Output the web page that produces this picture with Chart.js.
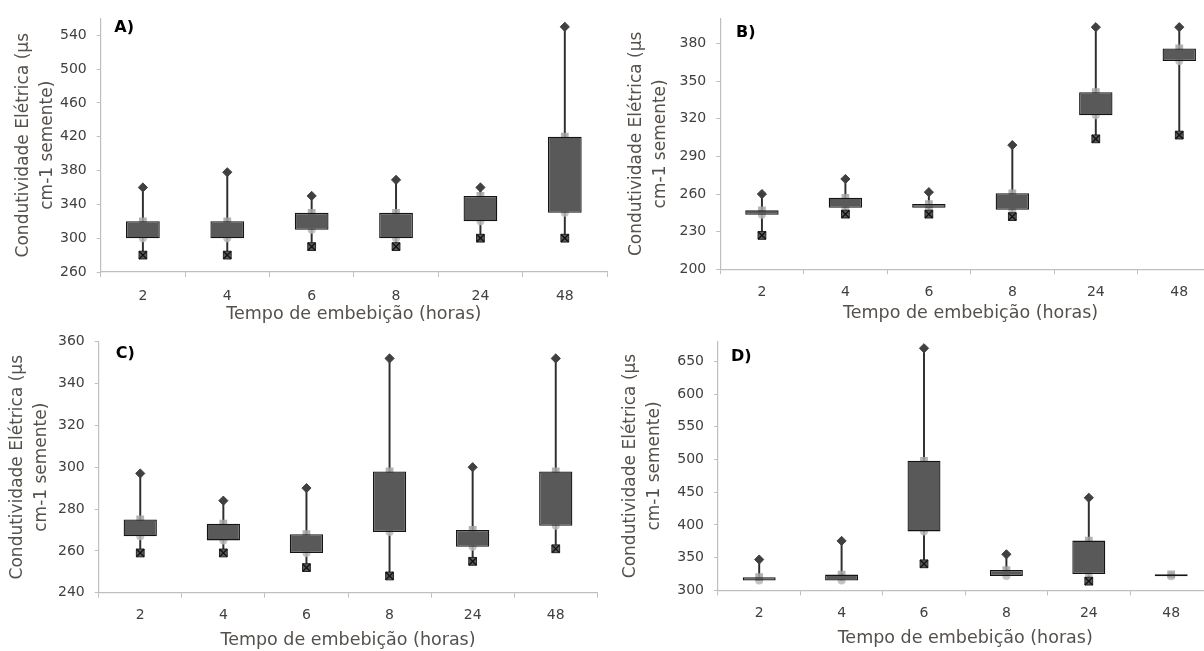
<!DOCTYPE html>
<html><head><meta charset="utf-8">
<script src="https://cdn.jsdelivr.net/npm/chart.js@4.4.1/dist/chart.umd.min.js"></script>
<style>
html,body{margin:0;padding:0;background:#fff;overflow:hidden;width:1204px;height:651px;position:relative}
canvas{position:absolute}
</style></head><body>
<canvas id="cA"></canvas><canvas id="cB"></canvas><canvas id="cC"></canvas><canvas id="cD"></canvas>
<script>
// ---------- DATA ----------
const categories = ['2', '4', '6', '8', '24', '48'];
const xTitle = 'Tempo de embebição (horas)';
const yTitle = ['Condutividade Elétrica (µs', 'cm-1 semente)'];

// Panel A
const minA = [280, 280, 290, 290, 300, 300];
const q1A  = [300, 300, 310, 300, 320, 330];
const q3A  = [320, 320, 330, 330, 350, 420];
const maxA = [360, 378, 350, 369, 360, 550];
const ticksA = [260, 300, 340, 380, 420, 460, 500, 540];
const rangeA = [260, 560];

// Panel B
const minB = [227, 244, 244, 242, 304, 307];
const q1B  = [243.5, 249, 249, 247.5, 322.7, 366];
const q3B  = [247, 257, 252, 260.6, 341.2, 376];
const maxB = [260, 272, 261.5, 299, 393, 393];
const ticksB = [200, 230, 260, 290, 320, 350, 380];
const rangeB = [200, 400];

// Panel C
const minC = [259, 259, 252, 248, 255, 261];
const q1C  = [267, 265, 259, 269, 262, 272];
const q3C  = [275, 273, 268, 298, 270, 298];
const maxC = [297, 284, 290, 352, 300, 352];
const ticksC = [240, 260, 280, 300, 320, 340, 360];
const rangeC = [240, 360];

// Panel D
const minD = [null, null, 340.5, null, 314, null];
const q1D  = [315, 315, 390, 322, 325, 321.5];
const q3D  = [320, 324, 498, 331, 376, 324.5];
const maxD = [347, 375.5, 670, 355, 441.5, null];
const ticksD = [300, 350, 400, 450, 500, 550, 600, 650];
const rangeD = [300, 680];

// ---------- LAYOUT / STYLE ----------
const FONT = '"DejaVu Sans", sans-serif';
const layouts = {
  A: {label: 'A)', left: 0,   top: 0,   w: 615, h: 325, padTop: 17,   padRight: 8,   yW: 100.7, xH: 53,   yTitlePad: 11.6, xTitlePad: 0.2, xTickPad: 11, lx: 13.6, ly: 9.7},
  B: {label: 'B)', left: 600, top: 0,   w: 630, h: 325, padTop: 17.1, padRight: 9,   yW: 120.2, xH: 55.7, yTitlePad: 24.5, xTitlePad: 0.9, xTickPad: 10, lx: 15.8, ly: 14.5},
  C: {label: 'C)', left: 0,   top: 320, w: 615, h: 331, padTop: 21.7, padRight: 17.7,yW: 98.7,  xH: 58.3, yTitlePad: 5.2,  xTitlePad: 0.2, xTickPad: 9.5, lx: 17, ly: 12.3},
  D: {label: 'D)', left: 600, top: 320, w: 620, h: 331, padTop: 21.7, padRight: 7.6, yW: 118,   xH: 60.7, yTitlePad: 18.8, xTitlePad: 1.9, xTickPad: 10, lx: 13, ly: 15}
};

const panelLabel = {
  id: 'panelLabel',
  afterDraw(chart, args, opts) {
    const ctx = chart.ctx, a = chart.chartArea;
    ctx.save();
    ctx.font = 'bold 16px ' + FONT;
    ctx.fillStyle = '#000';
    ctx.textBaseline = 'middle';
    ctx.textAlign = 'left';
    ctx.fillText(opts.text, a.left + opts.dx, a.top + opts.dy);
    ctx.restore();
  }
};

function makePanel(id, key, mins, q1s, q3s, maxs, ticks, range) {
  const L = layouts[key];
  const cv = document.getElementById(id);
  cv.width = L.w; cv.height = L.h;
  cv.style.left = L.left + 'px'; cv.style.top = L.top + 'px';
  const whisk = categories.map((c, i) => [mins[i] ?? q1s[i], maxs[i] ?? q3s[i]]);
  const box = categories.map((c, i) => [q1s[i], q3s[i]]);
  const pt = (extra) => Object.assign({type: 'line', showLine: false, pointHoverRadius: 0}, extra);
  new Chart(cv, {
    data: {
      labels: categories,
      datasets: [
        {type: 'bar', data: whisk, backgroundColor: '#2e2e2e', barThickness: 1.3, grouped: false, order: 6},
        pt({data: q3s, pointStyle: 'rect', pointRadius: 5.5, backgroundColor: 'rgba(165,165,165,0.85)', borderWidth: 0, order: 5}),
        pt({data: q1s, pointStyle: 'circle', pointRadius: 4, backgroundColor: 'rgba(185,185,185,0.85)', borderWidth: 0, order: 5}),
        {type: 'bar', data: box, backgroundColor: '#595959', borderColor: '#141414', borderWidth: 1.3, borderSkipped: false,
         barPercentage: 0.4, categoryPercentage: 1.0, grouped: false, order: 4},
        pt({data: maxs, pointStyle: 'rectRot', pointRadius: 4.6, backgroundColor: '#404040', borderColor: '#404040', borderWidth: 1, order: 2}),
        pt({data: mins, pointStyle: 'rect', pointRadius: 5.5, backgroundColor: '#5a5a5a', borderColor: '#262626', borderWidth: 1, order: 3}),
        pt({data: mins, pointStyle: 'crossRot', pointRadius: 5.5, borderColor: '#111', borderWidth: 1.3, order: 1})
      ]
    },
    options: {
      responsive: false, animation: false, devicePixelRatio: 1,
      events: [],
      layout: {padding: {top: L.padTop, right: L.padRight, left: 0, bottom: 0}},
      plugins: {legend: {display: false}, tooltip: {enabled: false},
                panelLabel: {text: L.label, dx: L.lx, dy: L.ly}},
      scales: {
        x: {
          type: 'category', offset: true,
          grid: {offset: true, drawOnChartArea: false, drawTicks: true, tickLength: 5, color: '#bfbfbf', lineWidth: 1},
          border: {color: '#bfbfbf', width: 1.2},
          ticks: {color: '#404040', font: {family: FONT, size: 14}, padding: L.xTickPad, maxRotation: 0, autoSkip: false},
          title: {display: true, text: xTitle, color: '#55504b', font: {family: FONT, size: 17.5, lineHeight: 1.2}, padding: {top: 0, bottom: L.xTitlePad}},
          afterFit: s => { s.height = L.xH; }
        },
        y: {
          type: 'linear', min: range[0], max: range[1],
          afterBuildTicks: s => { s.ticks = ticks.map(v => ({value: v})); },
          grid: {drawOnChartArea: false, drawTicks: true, tickLength: 4, color: '#bfbfbf'},
          border: {color: '#bfbfbf', width: 1.2},
          ticks: {color: '#404040', font: {family: FONT, size: 14}, padding: 10},
          title: {display: true, text: yTitle, color: '#55504b', font: {family: FONT, size: 17, lineHeight: 1.42}, padding: {top: L.yTitlePad, bottom: 0}},
          afterFit: s => { s.width = L.yW; }
        }
      }
    },
    plugins: [panelLabel]
  });
}

makePanel('cA', 'A', minA, q1A, q3A, maxA, ticksA, rangeA);
makePanel('cB', 'B', minB, q1B, q3B, maxB, ticksB, rangeB);
makePanel('cC', 'C', minC, q1C, q3C, maxC, ticksC, rangeC);
makePanel('cD', 'D', minD, q1D, q3D, maxD, ticksD, rangeD);
</script>
</body></html>
